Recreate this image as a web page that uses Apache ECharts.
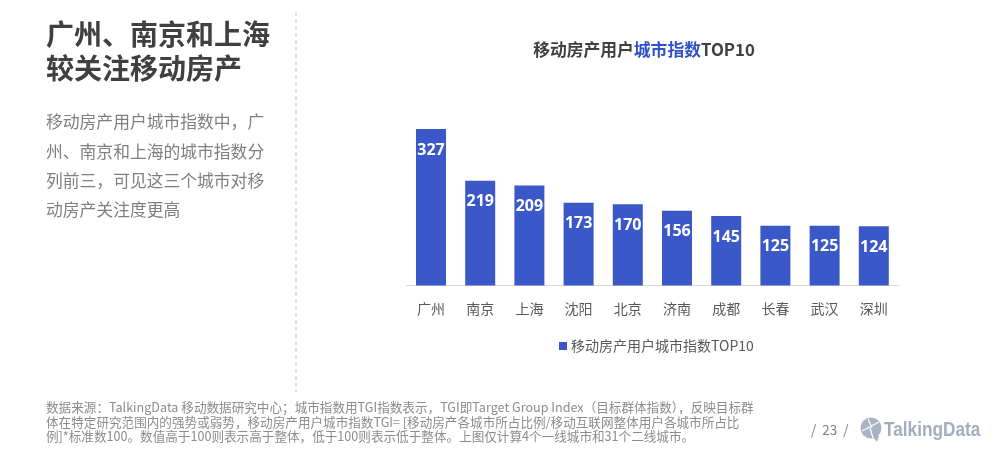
<!DOCTYPE html>
<html><head><meta charset="utf-8">
<style>html,body{margin:0;padding:0;background:#fff}#c{width:1000px;height:456px}</style>
<script src="https://cdn.jsdelivr.net/npm/echarts@6/dist/echarts.min.js"></script></head>
<body><div id="c"></div>
<script>
const cities=['广州','南京','上海','沈阳','北京','济南','成都','长春','武汉','深圳'];
const values=[327,219,209,173,170,156,145,125,125,124];
const seriesName='移动房产用户城市指数TOP10';
const headline=['广州、南京和上海','较关注移动房产'];
const bodyLines=['移动房产用户城市指数中，广','州、南京和上海的城市指数分','列前三，可见这三个城市对移','动房产关注度更高'];
const noteLines=['数据来源：TalkingData 移动数据研究中心；城市指数用TGI指数表示，TGI即Target Group Index（目标群体指数），反映目标群','体在特定研究范围内的强势或弱势，移动房产用户城市指数TGI= [移动房产各城市所占比例/移动互联网整体用户各城市所占比','例]*标准数100。数值高于100则表示高于整体，低于100则表示低于整体。上图仅计算4个一线城市和31个二线城市。'];
const F='"Noto Sans CJK SC","Noto Sans",sans-serif';
const blue='#3B58C9';
const chart=echarts.init(document.getElementById('c'),null,{renderer:'canvas'});
const txt=(x,y,s,size,color,weight,fam)=>({type:'text',x,y,style:{text:s,font:(weight||'normal')+' '+size+'px '+(fam||F),fill:color,textVerticalAlign:'middle'}});
const g=[];
headline.forEach((s,i)=>g.push(txt(46,34+i*34,s,28,'#404040','bold')));
bodyLines.forEach((s,i)=>g.push(txt(46,122+i*29.3,s,16.8,'#7f7f7f')));
noteLines.forEach((s,i)=>g.push(txt(46,407+i*14.8,s,12.6,'#8c8c8c')));
g.push({type:'line',shape:{x1:296,y1:12,x2:296,y2:392},style:{stroke:'#c4c4c4',lineWidth:1,lineDash:[4,3]}});
g.push(txt(811,430,'/  23  /',13.5,'#808080'));
g.push({type:'circle',shape:{cx:871,cy:428,r:10.5},style:{fill:'#a9b3c4'}});
g.push({type:'polygon',shape:{points:[[872,436],[879,436],[877,442]]},style:{fill:'#a9b3c4'}});
g.push({type:'line',shape:{x1:862,y1:431,x2:879,y2:422},style:{stroke:'#fff',lineWidth:1.2}});
g.push({type:'line',shape:{x1:870,y1:428,x2:873,y2:438},style:{stroke:'#fff',lineWidth:1.2}});
g.push({type:'line',shape:{x1:868,y1:419,x2:872,y2:428},style:{stroke:'#fff',lineWidth:1.2}});
const logo=txt(884,430,'TalkingData',21,'#a3adbf','bold','"Liberation Sans",sans-serif');
logo.scaleX=0.82;
g.push(logo);
chart.setOption({
 animation:false,
 backgroundColor:'#fff',
 title:{text:'{a|移动房产用户}{b|城市指数}{a|TOP10}',left:644,top:41,textAlign:'center',padding:0,
  textStyle:{rich:{a:{fontFamily:F,fontSize:16.8,fontWeight:'bold',color:'#404040'},b:{fontFamily:F,fontSize:16.8,fontWeight:'bold',color:'#2F52C8'}}}},
 legend:{data:[{name:seriesName,icon:'rect'}],left:554,top:334,itemWidth:8,itemHeight:8,itemGap:4,
  textStyle:{fontFamily:F,fontSize:14,color:'#595959',padding:[0,0,0,-1]}},
 grid:{left:406.4,top:118,width:492,height:167.5,containLabel:false},
 xAxis:{type:'category',data:cities,axisTick:{show:false},
  axisLine:{lineStyle:{color:'#d9d9d9',width:1}},
  axisLabel:{fontFamily:F,fontSize:14,color:'#595959',margin:16}},
 yAxis:{type:'value',min:0,max:350,show:false},
 series:[{name:seriesName,type:'bar',data:values,barWidth:30,
  itemStyle:{color:blue},
  label:{show:true,position:'insideTop',distance:13,color:'#fff',fontFamily:'"Open Sans","Noto Sans",sans-serif',fontWeight:'bold',fontSize:16}}],
 graphic:g
});
</script></body></html>
